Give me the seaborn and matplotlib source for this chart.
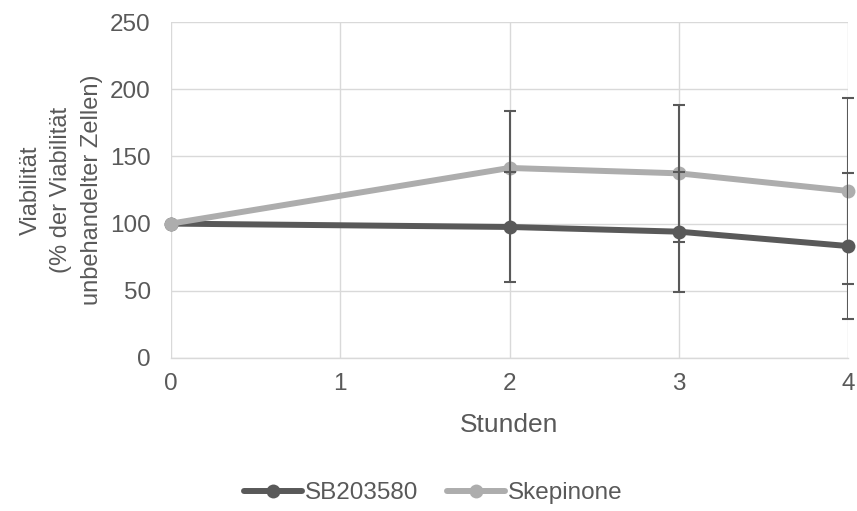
import matplotlib
matplotlib.use("Agg")
import matplotlib.pyplot as plt
import seaborn as sns
import pandas as pd

hours = [0, 2, 3, 4]
sb203580 = [100, 97.5, 94, 83.3]
skepinone = [100, 141.4, 137.4, 124.3]
sb203580_err = [0, 41, 44.7, 54.3]
skepinone_err = [0, 42.4, 51, 69]
series_names = ["SB203580", "Skepinone"]
xticks = [0, 1, 2, 3, 4]
yticks = [0, 50, 100, 150, 200, 250]

sns.set_theme(style="white")
plt.rcParams['font.family'] = ['Liberation Sans', 'DejaVu Sans']

df = pd.DataFrame({
    "Stunden": hours * 2,
    "val": sb203580 + skepinone,
    "err": sb203580_err + skepinone_err,
    "Serie": [series_names[0]] * len(hours) + [series_names[1]] * len(hours),
})

colors = {"SB203580": "#595959", "Skepinone": "#ADADAD"}
txt = "#595959"
fs = 17.5

fig = plt.figure(figsize=(8.57, 5.11), dpi=100)
ax = fig.add_axes([171/857, 1 - 358/511, (848-171)/857, (358-22)/511])

sns.lineplot(data=df, x="Stunden", y="val", hue="Serie", palette=colors,
             marker="o", markersize=10, markeredgewidth=0, linewidth=4.3,
             ax=ax, zorder=3, legend=True)

for name, vals, errs in [(series_names[0], sb203580, sb203580_err),
                         (series_names[1], skepinone, skepinone_err)]:
    xs = [h for h, e in zip(hours, errs) if e > 0]
    ys = [v for v, e in zip(vals, errs) if e > 0]
    es = [e for e in errs if e > 0]
    ax.errorbar(xs, ys, yerr=es, fmt="none", ecolor="#595959",
                elinewidth=1.5, capsize=4.5, capthick=1.5, zorder=4)

ax.set_xlim(0, 4)
ax.set_ylim(0, 250)
ax.set_xticks(xticks)
ax.set_yticks(yticks)
ax.grid(True, color="#D9D9D9", linewidth=1)
ax.set_axisbelow(True)
for s in ["top", "right", "left"]:
    ax.spines[s].set_visible(False)
ax.spines["bottom"].set_color("#D9D9D9")
ax.spines["bottom"].set_linewidth(1)
ax.tick_params(axis="both", colors=txt, labelsize=fs, length=0)
ax.tick_params(axis="y", pad=14.5)
ax.tick_params(axis="x", pad=10.5)
ax.set_xlabel("Stunden", color=txt, fontsize=19)
ax.xaxis.set_label_coords(0.5, (358 - 413) / 336)
ax.set_ylabel("Viabilität\n(% der Viabilität\nunbehandelter Zellen)", color=txt,
              fontsize=17, linespacing=1.5)
ax.yaxis.set_label_coords((103 - 171) / 677, 0.5)
for lbl in ax.get_xticklabels() + ax.get_yticklabels():
    lbl.set_color(txt)

handles, labels = ax.get_legend_handles_labels()
ax.get_legend().remove()
leg = fig.legend(handles, labels, loc="center",
                 bbox_to_anchor=(433 / 857, 1 - 493 / 511),
                 ncol=2, frameon=False, fontsize=fs, handlelength=2.4,
                 columnspacing=1.2, handletextpad=0.1)
for t in leg.get_texts():
    t.set_color(txt)
for ln in ax.lines:
    ln.set_clip_on(False)

fig.savefig("out.png", dpi=100)
